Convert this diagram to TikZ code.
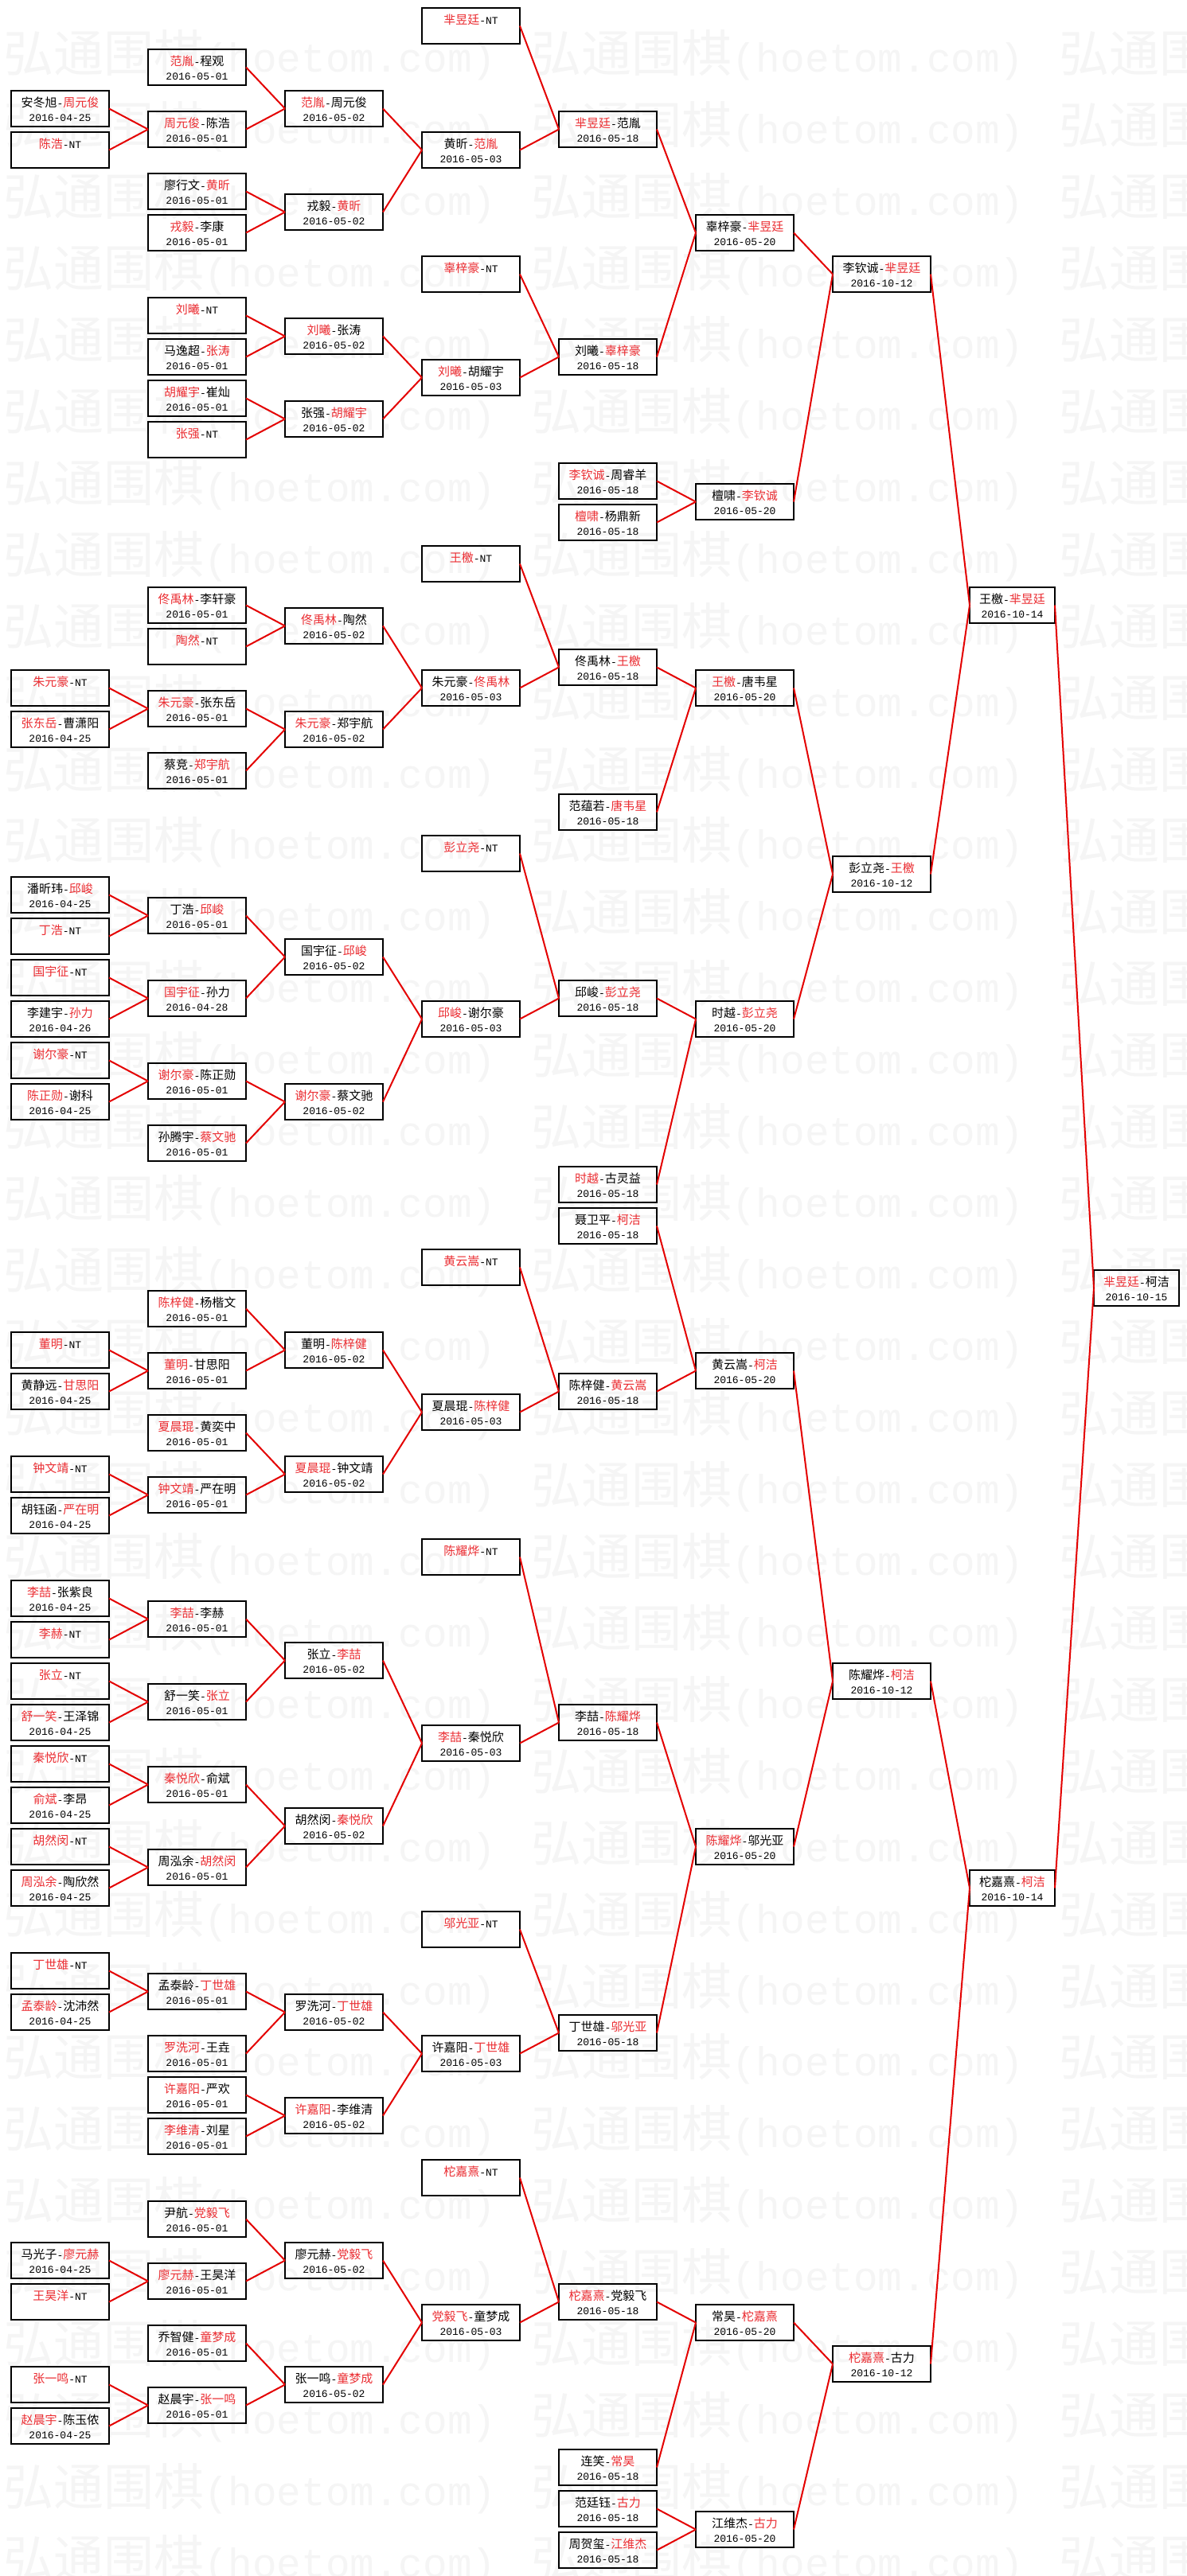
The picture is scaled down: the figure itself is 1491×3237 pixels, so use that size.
\documentclass[tikz,border=0pt]{standalone}
\usepackage{fontspec}
\setmainfont{Noto Sans CJK SC}
\newfontfamily\monof{Liberation Mono}
\newfontfamily\cjkf{Noto Sans CJK SC}
\definecolor{tred}{RGB}{235,45,50}
\definecolor{lred}{RGB}{228,0,0}
\definecolor{wmk}{RGB}{245,245,245}
\newcommand\R[1]{\textcolor{tred}{#1}}
\newcommand\hy{{\monof\fontsize{13}{13}\selectfont-}}
\newcommand\NT{{\monof\fontsize{13}{13}\selectfont NT}}
\newcommand\dt[1]{{\monof\fontsize{13}{13}\selectfont #1}}
\newcommand\bxtext[3]{\parbox[t][45pt][t]{#1pt}{\centering\fontsize{15}{18}\selectfont\rule{0pt}{20.5pt}#2\par\dt{#3}}}
\newcommand\B[5]{\node[box,minimum width=123pt] (#1) at (#2,{10+26*#3}) {\bxtext{123}{#4}{#5}};}
\newcommand\Bn[5]{\node[box,minimum width=107pt] (#1) at (#2,{10+26*#3}) {\bxtext{107}{#4}{#5}};}
\newcommand\wmtext{{\cjkf\fontsize{63}{63}\selectfont 弘通围棋}{\monof\fontsize{51}{51}\selectfont (hoetom.com)}}
\begin{document}
\begin{tikzpicture}[x=1pt,y=-1pt,
  box/.style={draw=black,line width=2pt,rectangle,inner sep=0pt,outer sep=0pt,minimum height=45pt,anchor=north west},
  conn/.style={draw=lred,line width=2pt},
  wm/.style={anchor=base west,inner sep=0pt,text=wmk}]
\useasboundingbox (0,0) rectangle (1491,3237);
\fill[white] (0,0) rectangle (1491,3237);
\begin{scope}
\clip (0,0) rectangle (1491,3237);
\foreach \k in {0,...,35}{
  \foreach \xx [count=\ci] in {4,667,1330}{
    \node[wm] (wm-\k-\ci) at (\xx,{90.6+89.94*\k}) {\wmtext};
  }
}
\end{scope}
% column 1
\B{c1r4}{14}{4}{安冬旭\hy\R{周元俊}}{2016-04-25}
\B{c1r6}{14}{6}{\R{陈浩}\hy\NT}{}
\B{c1r32}{14}{32}{\R{朱元豪}\hy\NT}{}
\B{c1r34}{14}{34}{\R{张东岳}\hy 曹潇阳}{2016-04-25}
\B{c1r42}{14}{42}{潘昕玮\hy\R{邱峻}}{2016-04-25}
\B{c1r44}{14}{44}{\R{丁浩}\hy\NT}{}
\B{c1r46}{14}{46}{\R{国宇征}\hy\NT}{}
\B{c1r48}{14}{48}{李建宇\hy\R{孙力}}{2016-04-26}
\B{c1r50}{14}{50}{\R{谢尔豪}\hy\NT}{}
\B{c1r52}{14}{52}{\R{陈正勋}\hy 谢科}{2016-04-25}
\B{c1r64}{14}{64}{\R{董明}\hy\NT}{}
\B{c1r66}{14}{66}{黄静远\hy\R{甘思阳}}{2016-04-25}
\B{c1r70}{14}{70}{\R{钟文靖}\hy\NT}{}
\B{c1r72}{14}{72}{胡钰函\hy\R{严在明}}{2016-04-25}
\B{c1r76}{14}{76}{\R{李喆}\hy 张紫良}{2016-04-25}
\B{c1r78}{14}{78}{\R{李赫}\hy\NT}{}
\B{c1r80}{14}{80}{\R{张立}\hy\NT}{}
\B{c1r82}{14}{82}{\R{舒一笑}\hy 王泽锦}{2016-04-25}
\B{c1r84}{14}{84}{\R{秦悦欣}\hy\NT}{}
\B{c1r86}{14}{86}{\R{俞斌}\hy 李昂}{2016-04-25}
\B{c1r88}{14}{88}{\R{胡然闵}\hy\NT}{}
\B{c1r90}{14}{90}{\R{周泓余}\hy 陶欣然}{2016-04-25}
\B{c1r94}{14}{94}{\R{丁世雄}\hy\NT}{}
\B{c1r96}{14}{96}{\R{孟泰龄}\hy 沈沛然}{2016-04-25}
\B{c1r108}{14}{108}{马光子\hy\R{廖元赫}}{2016-04-25}
\B{c1r110}{14}{110}{\R{王昊洋}\hy\NT}{}
\B{c1r114}{14}{114}{\R{张一鸣}\hy\NT}{}
\B{c1r116}{14}{116}{\R{赵晨宇}\hy 陈玉侬}{2016-04-25}
% column 2
\B{c2r2}{186}{2}{\R{范胤}\hy 程观}{2016-05-01}
\B{c2r5}{186}{5}{\R{周元俊}\hy 陈浩}{2016-05-01}
\B{c2r8}{186}{8}{廖行文\hy\R{黄昕}}{2016-05-01}
\B{c2r10}{186}{10}{\R{戎毅}\hy 李康}{2016-05-01}
\B{c2r14}{186}{14}{\R{刘曦}\hy\NT}{}
\B{c2r16}{186}{16}{马逸超\hy\R{张涛}}{2016-05-01}
\B{c2r18}{186}{18}{\R{胡耀宇}\hy 崔灿}{2016-05-01}
\B{c2r20}{186}{20}{\R{张强}\hy\NT}{}
\B{c2r28}{186}{28}{\R{佟禹林}\hy 李轩豪}{2016-05-01}
\B{c2r30}{186}{30}{\R{陶然}\hy\NT}{}
\B{c2r33}{186}{33}{\R{朱元豪}\hy 张东岳}{2016-05-01}
\B{c2r36}{186}{36}{蔡竞\hy\R{郑宇航}}{2016-05-01}
\B{c2r43}{186}{43}{丁浩\hy\R{邱峻}}{2016-05-01}
\B{c2r47}{186}{47}{\R{国宇征}\hy 孙力}{2016-04-28}
\B{c2r51}{186}{51}{\R{谢尔豪}\hy 陈正勋}{2016-05-01}
\B{c2r54}{186}{54}{孙腾宇\hy\R{蔡文驰}}{2016-05-01}
\B{c2r62}{186}{62}{\R{陈梓健}\hy 杨楷文}{2016-05-01}
\B{c2r65}{186}{65}{\R{董明}\hy 甘思阳}{2016-05-01}
\B{c2r68}{186}{68}{\R{夏晨琨}\hy 黄奕中}{2016-05-01}
\B{c2r71}{186}{71}{\R{钟文靖}\hy 严在明}{2016-05-01}
\B{c2r77}{186}{77}{\R{李喆}\hy 李赫}{2016-05-01}
\B{c2r81}{186}{81}{舒一笑\hy\R{张立}}{2016-05-01}
\B{c2r85}{186}{85}{\R{秦悦欣}\hy 俞斌}{2016-05-01}
\B{c2r89}{186}{89}{周泓余\hy\R{胡然闵}}{2016-05-01}
\B{c2r95}{186}{95}{孟泰龄\hy\R{丁世雄}}{2016-05-01}
\B{c2r98}{186}{98}{\R{罗洗河}\hy 王垚}{2016-05-01}
\B{c2r100}{186}{100}{\R{许嘉阳}\hy 严欢}{2016-05-01}
\B{c2r102}{186}{102}{\R{李维清}\hy 刘星}{2016-05-01}
\B{c2r106}{186}{106}{尹航\hy\R{党毅飞}}{2016-05-01}
\B{c2r109}{186}{109}{\R{廖元赫}\hy 王昊洋}{2016-05-01}
\B{c2r112}{186}{112}{乔智健\hy\R{童梦成}}{2016-05-01}
\B{c2r115}{186}{115}{赵晨宇\hy\R{张一鸣}}{2016-05-01}
% column 3
\B{c3r4}{358}{4}{\R{范胤}\hy 周元俊}{2016-05-02}
\B{c3r9}{358}{9}{戎毅\hy\R{黄昕}}{2016-05-02}
\B{c3r15}{358}{15}{\R{刘曦}\hy 张涛}{2016-05-02}
\B{c3r19}{358}{19}{张强\hy\R{胡耀宇}}{2016-05-02}
\B{c3r29}{358}{29}{\R{佟禹林}\hy 陶然}{2016-05-02}
\B{c3r34}{358}{34}{\R{朱元豪}\hy 郑宇航}{2016-05-02}
\B{c3r45}{358}{45}{国宇征\hy\R{邱峻}}{2016-05-02}
\B{c3r52}{358}{52}{\R{谢尔豪}\hy 蔡文驰}{2016-05-02}
\B{c3r64}{358}{64}{董明\hy\R{陈梓健}}{2016-05-02}
\B{c3r70}{358}{70}{\R{夏晨琨}\hy 钟文靖}{2016-05-02}
\B{c3r79}{358}{79}{张立\hy\R{李喆}}{2016-05-02}
\B{c3r87}{358}{87}{胡然闵\hy\R{秦悦欣}}{2016-05-02}
\B{c3r96}{358}{96}{罗洗河\hy\R{丁世雄}}{2016-05-02}
\B{c3r101}{358}{101}{\R{许嘉阳}\hy 李维清}{2016-05-02}
\B{c3r108}{358}{108}{廖元赫\hy\R{党毅飞}}{2016-05-02}
\B{c3r114}{358}{114}{张一鸣\hy\R{童梦成}}{2016-05-02}
% column 4
\B{c4r0}{530}{0}{\R{芈昱廷}\hy\NT}{}
\B{c4r6}{530}{6}{黄昕\hy\R{范胤}}{2016-05-03}
\B{c4r12}{530}{12}{\R{辜梓豪}\hy\NT}{}
\B{c4r17}{530}{17}{\R{刘曦}\hy 胡耀宇}{2016-05-03}
\B{c4r26}{530}{26}{\R{王檄}\hy\NT}{}
\B{c4r32}{530}{32}{朱元豪\hy\R{佟禹林}}{2016-05-03}
\B{c4r40}{530}{40}{\R{彭立尧}\hy\NT}{}
\B{c4r48}{530}{48}{\R{邱峻}\hy 谢尔豪}{2016-05-03}
\B{c4r60}{530}{60}{\R{黄云嵩}\hy\NT}{}
\B{c4r67}{530}{67}{夏晨琨\hy\R{陈梓健}}{2016-05-03}
\B{c4r74}{530}{74}{\R{陈耀烨}\hy\NT}{}
\B{c4r83}{530}{83}{\R{李喆}\hy 秦悦欣}{2016-05-03}
\B{c4r92}{530}{92}{\R{邬光亚}\hy\NT}{}
\B{c4r98}{530}{98}{许嘉阳\hy\R{丁世雄}}{2016-05-03}
\B{c4r104}{530}{104}{\R{柁嘉熹}\hy\NT}{}
\B{c4r111}{530}{111}{\R{党毅飞}\hy 童梦成}{2016-05-03}
% column 5
\B{c5r5}{702}{5}{\R{芈昱廷}\hy 范胤}{2016-05-18}
\B{c5r16}{702}{16}{刘曦\hy\R{辜梓豪}}{2016-05-18}
\B{c5r22}{702}{22}{\R{李钦诚}\hy 周睿羊}{2016-05-18}
\B{c5r24}{702}{24}{\R{檀啸}\hy 杨鼎新}{2016-05-18}
\B{c5r31}{702}{31}{佟禹林\hy\R{王檄}}{2016-05-18}
\B{c5r38}{702}{38}{范蕴若\hy\R{唐韦星}}{2016-05-18}
\B{c5r47}{702}{47}{邱峻\hy\R{彭立尧}}{2016-05-18}
\B{c5r56}{702}{56}{\R{时越}\hy 古灵益}{2016-05-18}
\B{c5r58}{702}{58}{聂卫平\hy\R{柯洁}}{2016-05-18}
\B{c5r66}{702}{66}{陈梓健\hy\R{黄云嵩}}{2016-05-18}
\B{c5r82}{702}{82}{李喆\hy\R{陈耀烨}}{2016-05-18}
\B{c5r97}{702}{97}{丁世雄\hy\R{邬光亚}}{2016-05-18}
\B{c5r110}{702}{110}{\R{柁嘉熹}\hy 党毅飞}{2016-05-18}
\B{c5r118}{702}{118}{连笑\hy\R{常昊}}{2016-05-18}
\B{c5r120}{702}{120}{范廷钰\hy\R{古力}}{2016-05-18}
\B{c5r122}{702}{122}{周贺玺\hy\R{江维杰}}{2016-05-18}
% column 6
\B{c6r10}{874}{10}{辜梓豪\hy\R{芈昱廷}}{2016-05-20}
\B{c6r23}{874}{23}{檀啸\hy\R{李钦诚}}{2016-05-20}
\B{c6r32}{874}{32}{\R{王檄}\hy 唐韦星}{2016-05-20}
\B{c6r48}{874}{48}{时越\hy\R{彭立尧}}{2016-05-20}
\B{c6r65}{874}{65}{黄云嵩\hy\R{柯洁}}{2016-05-20}
\B{c6r88}{874}{88}{\R{陈耀烨}\hy 邬光亚}{2016-05-20}
\B{c6r111}{874}{111}{常昊\hy\R{柁嘉熹}}{2016-05-20}
\B{c6r121}{874}{121}{江维杰\hy\R{古力}}{2016-05-20}
% column 7
\B{c7r12}{1046}{12}{李钦诚\hy\R{芈昱廷}}{2016-10-12}
\B{c7r41}{1046}{41}{彭立尧\hy\R{王檄}}{2016-10-12}
\B{c7r80}{1046}{80}{陈耀烨\hy\R{柯洁}}{2016-10-12}
\B{c7r113}{1046}{113}{\R{柁嘉熹}\hy 古力}{2016-10-12}
% column 8
\Bn{c8r28}{1218}{28}{王檄\hy\R{芈昱廷}}{2016-10-14}
\Bn{c8r90}{1218}{90}{柁嘉熹\hy\R{柯洁}}{2016-10-14}
% column 9
\Bn{c9r61}{1374}{61}{\R{芈昱廷}\hy 柯洁}{2016-10-15}
% connectors
\foreach \a/\b in {c1r4/c2r5,c1r6/c2r5,c1r32/c2r33,c1r34/c2r33,c1r42/c2r43,c1r44/c2r43,
  c1r46/c2r47,c1r48/c2r47,c1r50/c2r51,c1r52/c2r51,c1r64/c2r65,c1r66/c2r65,
  c1r70/c2r71,c1r72/c2r71,c1r76/c2r77,c1r78/c2r77,c1r80/c2r81,c1r82/c2r81,
  c1r84/c2r85,c1r86/c2r85,c1r88/c2r89,c1r90/c2r89,c1r94/c2r95,c1r96/c2r95,
  c1r108/c2r109,c1r110/c2r109,c1r114/c2r115,c1r116/c2r115,
  c2r2/c3r4,c2r5/c3r4,c2r8/c3r9,c2r10/c3r9,c2r14/c3r15,c2r16/c3r15,
  c2r18/c3r19,c2r20/c3r19,c2r28/c3r29,c2r30/c3r29,c2r33/c3r34,c2r36/c3r34,
  c2r43/c3r45,c2r47/c3r45,c2r51/c3r52,c2r54/c3r52,c2r62/c3r64,c2r65/c3r64,
  c2r68/c3r70,c2r71/c3r70,c2r77/c3r79,c2r81/c3r79,c2r85/c3r87,c2r89/c3r87,
  c2r95/c3r96,c2r98/c3r96,c2r100/c3r101,c2r102/c3r101,c2r106/c3r108,c2r109/c3r108,
  c2r112/c3r114,c2r115/c3r114,
  c3r4/c4r6,c3r9/c4r6,c3r15/c4r17,c3r19/c4r17,c3r29/c4r32,c3r34/c4r32,
  c3r45/c4r48,c3r52/c4r48,c3r64/c4r67,c3r70/c4r67,c3r79/c4r83,c3r87/c4r83,
  c3r96/c4r98,c3r101/c4r98,c3r108/c4r111,c3r114/c4r111,
  c4r0/c5r5,c4r6/c5r5,c4r12/c5r16,c4r17/c5r16,c4r26/c5r31,c4r32/c5r31,
  c4r40/c5r47,c4r48/c5r47,c4r60/c5r66,c4r67/c5r66,c4r74/c5r82,c4r83/c5r82,
  c4r92/c5r97,c4r98/c5r97,c4r104/c5r110,c4r111/c5r110,
  c5r5/c6r10,c5r16/c6r10,c5r22/c6r23,c5r24/c6r23,c5r31/c6r32,c5r38/c6r32,
  c5r47/c6r48,c5r56/c6r48,c5r58/c6r65,c5r66/c6r65,c5r82/c6r88,c5r97/c6r88,
  c5r110/c6r111,c5r118/c6r111,c5r120/c6r121,c5r122/c6r121,
  c6r10/c7r12,c6r23/c7r12,c6r32/c7r41,c6r48/c7r41,c6r65/c7r80,c6r88/c7r80,
  c6r111/c7r113,c6r121/c7r113,
  c7r12/c8r28,c7r41/c8r28,c7r80/c8r90,c7r113/c8r90,
  c8r28/c9r61,c8r90/c9r61}
  {\draw[conn] (\a.east) -- (\b.west);}
\end{tikzpicture}
\end{document}
